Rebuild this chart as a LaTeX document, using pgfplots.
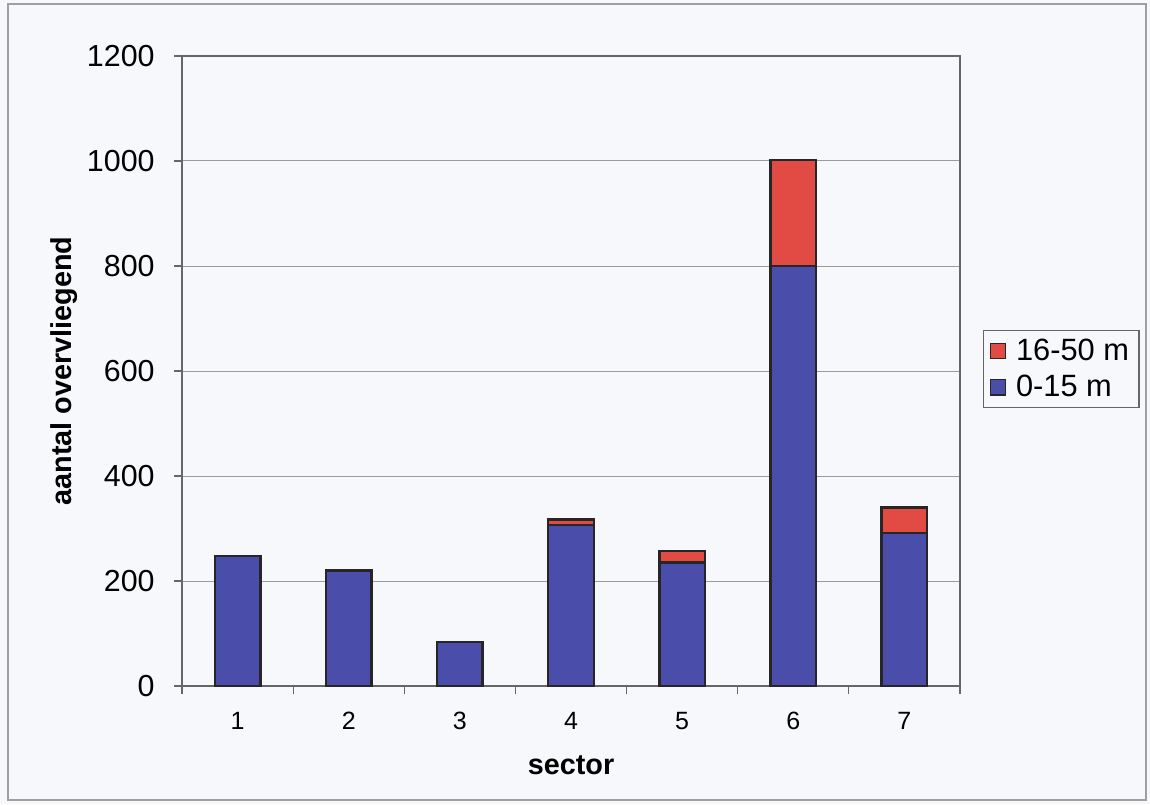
\documentclass[border=0pt]{standalone}
\usepackage{pgfplots}
\pgfplotsset{compat=1.18}
\usepackage{fontspec}
\setmainfont{Liberation Sans}
\definecolor{bgpaper}{HTML}{F6F8FB}
\definecolor{barblue}{HTML}{4B4DAA}
\definecolor{barred}{HTML}{E24B43}
\definecolor{gridgray}{HTML}{9A9A9A}
\begin{document}
\begin{tikzpicture}
% page background and outer frame
\fill[bgpaper] (0pt,0pt) rectangle (575pt,402pt);
\draw[gray!75, line width=0.6pt] (4pt,2pt) rectangle (573pt,400pt);
\begin{axis}[
  at={(91pt,59pt)}, anchor=south west,
  scale only axis, width=389pt, height=315pt,
  ybar stacked, bar width=0.41,
  xmin=0.5, xmax=7.5, ymin=0, ymax=1200,
  ytick={0,200,...,1200},
  xtick={1,...,7},
  minor xtick={0.5,1.5,...,7.5},
  major x tick style={draw=none},
  tick align=outside, tick pos=left,
  major tick length=4pt, minor tick length=4pt,
  tick style={gray!80!black, line width=0.6pt},
  axis line style={gray!80!black, line width=0.6pt},
  ymajorgrids, grid style={gridgray, line width=0.5pt},
  /pgf/number format/assume math mode=true,
  /pgf/number format/1000 sep={},
  yticklabel style={font=\fontsize{15.2}{18}\selectfont, inner sep=0pt, xshift=-9.5pt},
  xticklabel style={font=\fontsize{12.5}{14}\selectfont, inner sep=0pt, yshift=-9pt},
  every axis y label/.style={at={(axis description cs:-0.152,0.5)}, rotate=90, anchor=center},
  every axis x label/.style={at={(axis description cs:0.5,-0.1254)}, anchor=center},
  ylabel={\fontsize{14.4}{17}\selectfont\bfseries aantal overvliegend},
  xlabel={\fontsize{14.4}{17}\selectfont\bfseries sector},
  axis background/.style={fill=bgpaper},
  legend style={at={(1.0296,0.565)}, anchor=north west, draw=gray!80!black,
    fill=bgpaper, font=\fontsize{15.4}{18}\selectfont, inner xsep=3pt, inner ysep=2pt,
    row sep=2pt, column sep=3pt, line width=0.6pt},
  legend cell align=left,
  reverse legend,
  legend image code/.code={\draw[#1, line width=0.6pt] (0pt,-3.8pt) rectangle (7.6pt,3.8pt);},
]
% 0-15 m
\addplot[fill=barblue, draw=black!85, line width=1.2pt] coordinates {
  (1,248) (2,220) (3,84) (4,307) (5,235) (6,800) (7,292)};
% 16-50 m
\addplot[fill=barred, draw=black!85, line width=1.2pt] coordinates {
  (1,0) (2,0) (3,0) (4,10) (5,22) (6,202) (7,48)};
\legend{0-15 m, 16-50 m}
\end{axis}
\end{tikzpicture}
\end{document}
